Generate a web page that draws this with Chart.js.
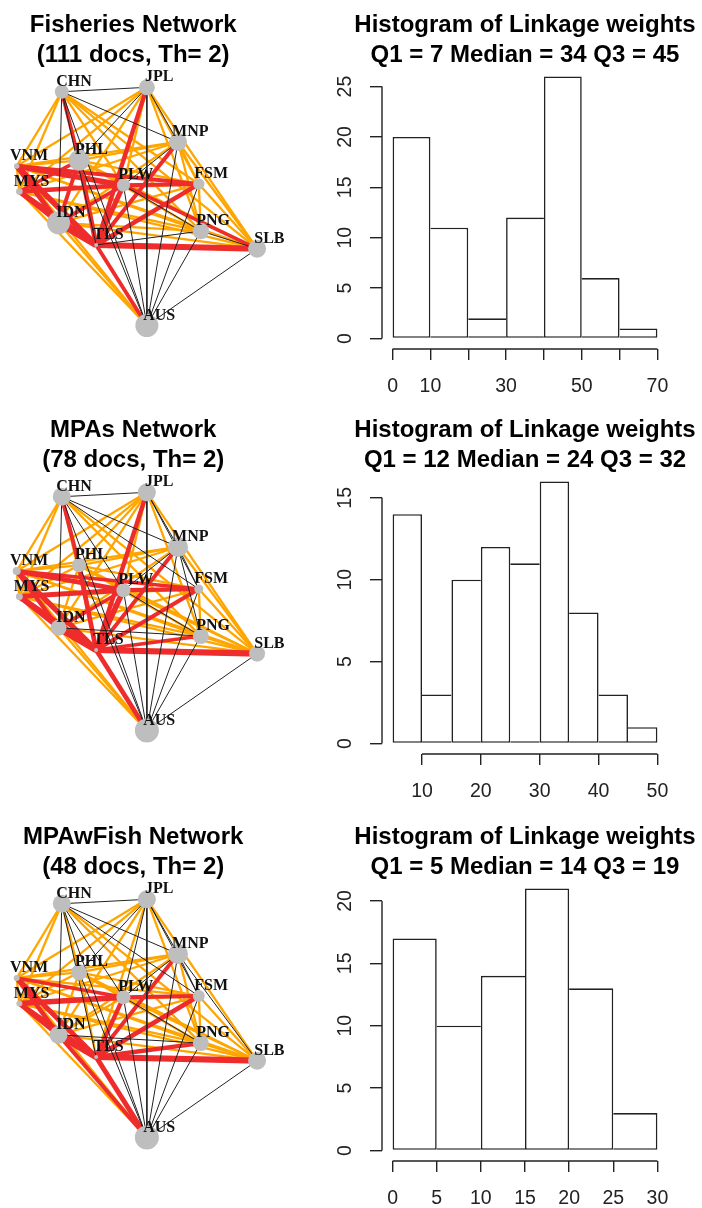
<!DOCTYPE html>
<html>
<head>
<meta charset="utf-8">
<script src="https://cdn.jsdelivr.net/npm/chart.js@4.4.1/dist/chart.umd.min.js"></script>
<style>
  body { margin: 0; background: #fff; width: 702px; height: 1208px; overflow: hidden; position: relative; }
  canvas { position: absolute; }
</style>
</head>
<body>
<canvas id="net0" width="300" height="400"></canvas>
<canvas id="hist0" width="402" height="400"></canvas>
<canvas id="net1" width="300" height="400"></canvas>
<canvas id="hist1" width="402" height="400"></canvas>
<canvas id="net2" width="300" height="400"></canvas>
<canvas id="hist2" width="402" height="400"></canvas>
<script>
// Network nodes (layout coordinates, rescaled to -1..1 like igraph)
const nodeNames = ['CHN', 'JPL', 'MNP', 'VNM', 'PHL', 'MYS', 'PLW', 'FSM', 'IDN', 'TLS', 'PNG', 'SLB', 'AUS'];
const nodeX = [-0.625, 0.083, 0.342, -1.0, -0.481, -0.978, -0.112, 0.515, -0.652, -0.339, 0.532, 1.0, 0.083];
const nodeY = [0.963, 1.0, 0.541, 0.339, 0.387, 0.125, 0.178, 0.188, -0.138, -0.324, -0.207, -0.355, -1.0];

// Vertex sizes per network
const fishNodeSize = [7, 8, 9, 2.7, 10.5, 3.3, 6.5, 5.7, 11.5, 2, 8.3, 9, 11.5];
const mpaNodeSize = [9, 9, 10, 4, 7, 3.5, 7, 4.5, 8, 2, 8, 8, 12];
const mixNodeSize = [9, 9, 10, 3, 8, 3, 7, 6, 9, 2, 8, 9, 12];

// Linkage weights, upper triangle rows in nodeNames order
const fishWeights = [
  [3, 4, 36, 48, 33, 42, 38, 5, 6, 31, 30, 4],
  [5, 34, 6, 32, 44, 40, 37, 52, 36, 35, 3],
  [38, 41, 35, 6, 42, 39, 50, 43, 40, 4],
  [44, 43, 58, 49, 55, 60, 41, 42, 15],
  [47, 43, 42, 49, 54, 41, 40, 5],
  [53, 44, 51, 57, 40, 39, 16],
  [50, 48, 56, 6, 47, 4],
  [43, 52, 18, 14, 3],
  [65, 41, 43, 12],
  [5, 62, 49],
  [6, 2],
  [3]
];
const mpaWeights = [
  [7, 8, 22, 36, 20, 9, 10, 6, 25, 18, 17, 6],
  [9, 21, 26, 19, 28, 10, 23, 38, 16, 15, 7],
  [24, 27, 22, 11, 8, 25, 35, 10, 18, 6],
  [28, 26, 40, 34, 37, 42, 23, 21, 14],
  [27, 30, 24, 31, 39, 22, 20, 7],
  [41, 29, 38, 44, 24, 23, 13],
  [37, 34, 43, 9, 30, 8],
  [28, 36, 21, 19, 6],
  [48, 11, 29, 16],
  [33, 46, 39],
  [17, 5],
  [8]
];
const mixWeights = [
  [2, 3, 12, 16, 11, 4, 3, 2, 4, 10, 9, 2],
  [3, 13, 4, 12, 4, 3, 14, 17, 12, 11, 2],
  [14, 15, 13, 4, 3, 16, 21, 12, 4, 3],
  [15, 14, 20, 17, 22, 24, 13, 12, 8],
  [16, 18, 15, 17, 19, 14, 13, 4],
  [25, 16, 23, 24, 14, 13, 9],
  [21, 18, 22, 4, 15, 3],
  [17, 23, 14, 12, 3],
  [28, 4, 16, 21],
  [22, 27, 24],
  [10, 3],
  [2]
];

// Quartiles of the linkage weights
const quartile1 = [7, 12, 5];
const medians = [34, 24, 14];
const quartile3 = [45, 32, 19];
const docCounts = [111, 78, 48];
const networkNames = ['Fisheries', 'MPAs', 'MPAwFish'];

// Histograms
const fishBreaks = [0, 10, 20, 30, 40, 50, 60, 70];
const fishCounts = [20, 11, 2, 12, 26, 6, 1];
const fishXTicks = [0, 10, 20, 30, 40, 50, 60, 70];
const fishXLabels = ['0', '10', '', '30', '', '50', '', '70'];
const fishYTicks = [0, 5, 10, 15, 20, 25];

const mpaBreaks = [5, 10, 15, 20, 25, 30, 35, 40, 45, 50];
const mpaCounts = [14, 3, 10, 12, 11, 16, 8, 3, 1];
const mpaXTicks = [10, 20, 30, 40, 50];
const mpaXLabels = ['10', '20', '30', '40', '50'];
const mpaYTicks = [0, 5, 10, 15];

const mixBreaks = [0, 5, 10, 15, 20, 25, 30];
const mixCounts = [17, 10, 14, 21, 13, 3];
const mixXTicks = [0, 5, 10, 15, 20, 25, 30];
const mixXLabels = ['0', '5', '10', '15', '20', '25', '30'];
const mixYTicks = [0, 5, 10, 15, 20];

const panelTops = [0, 405, 812];

const EDGE_LOW = '#222222';
const EDGE_MID = '#FFA500';
const EDGE_HIGH = '#EE2C2C';
const NODE_COLOR = '#BEBEBE';
const INK = '#222222';

Chart.defaults.font.family = '"Liberation Sans", Arial, sans-serif';
Chart.defaults.animation = false;

// Two-line bold title centred over the plot region (R main title)
const panelTitle = {
  id: 'panelTitle',
  afterDraw(chart, args, opts) {
    const { ctx, chartArea } = chart;
    const cx = (chartArea.left + chartArea.right) / 2;
    ctx.save();
    ctx.font = 'bold 24px "Liberation Sans", Arial, sans-serif';
    ctx.fillStyle = '#000';
    ctx.textAlign = 'center';
    ctx.textBaseline = 'middle';
    opts.lines.forEach((line, i) => ctx.fillText(line, cx, 25 + 30 * i));
    ctx.restore();
  }
};

function buildEdges(weights, q1, q3) {
  const edges = [];
  const maxW = Math.max(...weights.flat());
  weights.forEach((row, i) => {
    row.forEach((w, k) => {
      const j = i + 1 + k;
      let color = EDGE_MID, width = 2.3, order = 3;
      if (w < q1) {
        color = EDGE_LOW; width = 1; order = 1;
      } else if (w > q3) {
        color = EDGE_HIGH; width = 3.2 + 3.4 * (w - q3) / (maxW - q3); order = 2;
      }
      edges.push({
        data: [{ x: nodeX[i], y: nodeY[i] }, { x: nodeX[j], y: nodeY[j] }],
        showLine: true,
        borderColor: color,
        borderWidth: width,
        pointRadius: 0,
        order: order
      });
    });
  });
  return edges;
}

// Node names drawn next to each vertex
const nodeLabels = {
  id: 'nodeLabels',
  afterDatasetsDraw(chart) {
    const ctx = chart.ctx;
    const meta = chart.getDatasetMeta(0);
    ctx.save();
    ctx.font = 'bold 16px "Liberation Serif", "Times New Roman", serif';
    ctx.fillStyle = '#111';
    ctx.textAlign = 'center';
    ctx.textBaseline = 'middle';
    meta.data.forEach((pt, i) => {
      ctx.fillText(nodeNames[i], pt.x + 12.3, pt.y - 10);
    });
    ctx.restore();
  }
};

function drawNetwork(idx, weights, sizes) {
  const canvas = document.getElementById('net' + idx);
  canvas.style.left = '0px';
  canvas.style.top = panelTops[idx] + 'px';
  const nodes = {
    data: nodeNames.map((n, i) => ({ x: nodeX[i], y: nodeY[i] })),
    pointRadius: sizes,
    pointBackgroundColor: NODE_COLOR,
    pointBorderWidth: 0,
    showLine: false,
    order: 0
  };
  new Chart(canvas, {
    type: 'scatter',
    data: { datasets: [nodes, ...buildEdges(weights, quartile1[idx], quartile3[idx])] },
    options: {
      responsive: false,
      devicePixelRatio: 1,
      events: [],
      clip: false,
      layout: { autoPadding: false, padding: { left: 0, right: 33.6, top: 66, bottom: 0 } },
      scales: {
        x: { type: 'linear', min: -1.139, max: 1.0775, display: false },
        y: { type: 'linear', min: -1.6255, max: 1.179, display: false }
      },
      plugins: {
        legend: { display: false },
        tooltip: { enabled: false },
        panelTitle: { lines: [networkNames[idx] + ' Network', '(' + docCounts[idx] + ' docs, Th= 2)'] }
      }
    },
    plugins: [nodeLabels, panelTitle]
  });
}

// R style axis lines, from the first tick to the last one
const axisLines = {
  id: 'axisLines',
  afterDraw(chart) {
    const { ctx, chartArea, scales: { x, y } } = chart;
    ctx.save();
    ctx.strokeStyle = INK;
    ctx.lineWidth = 1.4;
    ctx.beginPath();
    ctx.moveTo(x.getPixelForValue(x.ticks[0].value), chartArea.bottom);
    ctx.lineTo(x.getPixelForValue(x.ticks[x.ticks.length - 1].value), chartArea.bottom);
    ctx.moveTo(chartArea.left, y.getPixelForValue(y.ticks[0].value));
    ctx.lineTo(chartArea.left, y.getPixelForValue(y.ticks[y.ticks.length - 1].value));
    ctx.stroke();
    ctx.restore();
  }
};

function drawHistogram(idx, breaks, counts, xTicks, xLabels, yTicks) {
  const canvas = document.getElementById('hist' + idx);
  canvas.style.left = '300px';
  canvas.style.top = panelTops[idx] + 'px';
  const range = breaks[breaks.length - 1] - breaks[0];
  const maxCount = Math.max(...counts);
  const bw = 1.6;
  const last = counts.length - 1;
  new Chart(canvas, {
    type: 'bar',
    data: {
      datasets: [{
        data: counts.map((c, i) => ({ x: (breaks[i] + breaks[i + 1]) / 2, y: c })),
        backgroundColor: '#fff',
        borderColor: INK,
        borderSkipped: false,
        inflateAmount: 0,
        borderWidth: (ctx) => {
          const i = ctx.dataIndex;
          return {
            top: bw,
            bottom: bw,
            left: (i === 0 || counts[i] >= counts[i - 1]) ? bw : 0,
            right: (i === last || counts[i] > counts[i + 1]) ? bw : 0
          };
        },
        barPercentage: 1,
        categoryPercentage: 1
      }]
    },
    options: {
      responsive: false,
      devicePixelRatio: 1,
      events: [],
      layout: { autoPadding: false, padding: { left: 0, right: 34, top: 66, bottom: 0 } },
      scales: {
        x: {
          type: 'linear',
          offset: false,
          min: breaks[0] - 0.04 * range,
          max: breaks[breaks.length - 1] + 0.04 * range,
          afterBuildTicks: (s) => { s.ticks = xTicks.map(v => ({ value: v })); },
          afterFit: (s) => { s.height = 51; },
          border: { display: false },
          grid: { offset: false, drawOnChartArea: false, tickLength: 11, color: INK, lineWidth: 1.4 },
          ticks: {
            autoSkip: false,
            maxRotation: 0,
            padding: 15,
            color: INK,
            font: { size: 19.5 },
            callback: (v, i) => xLabels[i]
          }
        },
        y: {
          type: 'linear',
          min: -0.04 * maxCount,
          max: 1.04 * maxCount,
          afterBuildTicks: (s) => { s.ticks = yTicks.map(v => ({ value: v })); },
          afterFit: (s) => { s.width = 82; },
          border: { display: false },
          grid: { drawOnChartArea: false, tickLength: 12, color: INK, lineWidth: 1.4 },
          ticks: {
            autoSkip: false,
            minRotation: 90,
            maxRotation: 90,
            crossAlign: 'center',
            padding: 14,
            color: INK,
            font: { size: 19.5 },
            callback: (v) => String(v)
          }
        }
      },
      plugins: {
        legend: { display: false },
        tooltip: { enabled: false },
        panelTitle: {
          lines: ['Histogram of Linkage weights',
            'Q1 = ' + quartile1[idx] + ' Median = ' + medians[idx] + ' Q3 = ' + quartile3[idx]]
        }
      }
    },
    plugins: [axisLines, panelTitle]
  });
}

drawNetwork(0, fishWeights, fishNodeSize);
drawNetwork(1, mpaWeights, mpaNodeSize);
drawNetwork(2, mixWeights, mixNodeSize);
drawHistogram(0, fishBreaks, fishCounts, fishXTicks, fishXLabels, fishYTicks);
drawHistogram(1, mpaBreaks, mpaCounts, mpaXTicks, mpaXLabels, mpaYTicks);
drawHistogram(2, mixBreaks, mixCounts, mixXTicks, mixXLabels, mixYTicks);
</script>
</body>
</html>
